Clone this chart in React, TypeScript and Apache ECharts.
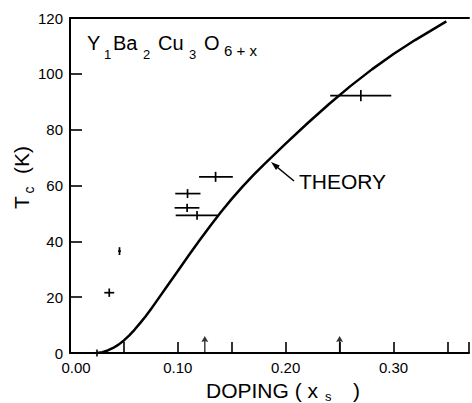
import React, { useEffect, useRef } from "react";
import * as echarts from "echarts";

// Theory curve (doping x_s vs Tc in K)
const theoryX = [0.025, 0.03, 0.035, 0.04, 0.045, 0.05, 0.055, 0.06, 0.065, 0.07, 0.075, 0.08, 0.09, 0.1, 0.11, 0.12, 0.13, 0.14, 0.15, 0.16, 0.17, 0.18, 0.2, 0.22, 0.24, 0.26, 0.28, 0.3, 0.32, 0.349];
const theoryY = [0, 0.3, 0.9, 1.8, 3.0, 4.5, 6.3, 8.4, 10.7, 13.1, 15.7, 18.4, 23.9, 29.4, 34.9, 40.3, 45.5, 50.5, 55.2, 59.6, 63.7, 67.6, 75.0, 82.2, 89.1, 95.6, 101.6, 107.1, 112.1, 118.8];

// Experimental points with error bars
const ptX = [0.0364, 0.0459, 0.1086, 0.1178, 0.109, 0.135, 0.2697];
const ptY = [21.6, 36.5, 52.0, 49.3, 57.1, 63.1, 92.2];
const ptXLo = [0.0318, 0.0446, 0.097, 0.098, 0.0976, 0.1197, 0.2413];
const ptXHi = [0.041, 0.0472, 0.12, 0.137, 0.121, 0.151, 0.2979];
const ptYErr = [1.5, 1.4, 1.5, 1.6, 1.6, 1.8, 2.0];

// Markers on the doping axis
const arrowX = [0.125, 0.25];
const startTickX = [0.025];

const FONT = '"Liberation Sans", Arial, Helvetica, sans-serif';

export default function App() {
  const ref = useRef<HTMLDivElement>(null);
  useEffect(() => {
    if (!ref.current) return;
    const chart = echarts.init(ref.current, null, { renderer: "svg" });
    const txt = (text: string, x: number, y: number, size: number, extra: any = {}) => ({
      type: "text",
      x,
      y,
      ...extra,
      style: { text, fontSize: size, fontFamily: FONT, fill: "#000", align: "left", verticalAlign: "middle", ...(extra.style || {}) },
    });
    chart.setOption({
      animation: false,
      backgroundColor: "#fff",
      grid: { left: 70, right: -2, top: 18, bottom: 50 },
      xAxis: [
        {
          type: "value",
          min: 0,
          max: 0.37,
          interval: 0.05,
          axisLine: { show: true, lineStyle: { color: "#000", width: 2 } },
          axisTick: { show: true, inside: true, length: 11, lineStyle: { color: "#000", width: 1.6 } },
          splitLine: { show: false },
          axisLabel: {
            color: "#000",
            fontSize: 15,
            fontFamily: FONT,
            margin: 7,
            formatter: (v: number) => {
              const r = Math.round(v * 100);
              if (r % 10 !== 0) return "";
              if (r === 0) return "{first|0.00}";
              return (r / 100).toFixed(2);
            },
            rich: { first: { fontSize: 15, fontFamily: FONT, color: "#000", padding: [0, 0, 0, 12] } },
          },
        },
        {
          type: "value",
          position: "top",
          min: 0,
          max: 0.37,
          axisLine: { show: true, onZero: false, lineStyle: { color: "#000", width: 2 } },
          axisTick: { show: false },
          axisLabel: { show: false },
          splitLine: { show: false },
        },
      ],
      yAxis: {
        type: "value",
        min: 0,
        max: 120,
        interval: 20,
        axisLine: { show: true, lineStyle: { color: "#000", width: 2 } },
        axisTick: { show: true, inside: true, length: 12, lineStyle: { color: "#000", width: 1.6 } },
        splitLine: { show: false },
        axisLabel: { color: "#000", fontSize: 15, fontFamily: FONT, margin: 7 },
      },
      series: [
        {
          type: "line",
          data: theoryX.map((x, i) => [x, theoryY[i]]),
          smooth: false,
          showSymbol: false,
          symbol: "none",
          lineStyle: { color: "#000", width: 2.5, join: "round" },
          z: 3,
        },
        {
          type: "custom",
          data: ptX.map((x, i) => [x, ptY[i], ptXLo[i], ptXHi[i], ptYErr[i]]),
          renderItem: (params: any, api: any) => {
            const x = api.value(0);
            const y = api.value(1);
            const lo = api.coord([api.value(2), y]);
            const hi = api.coord([api.value(3), y]);
            const top = api.coord([x, y + api.value(4)]);
            const bot = api.coord([x, y - api.value(4)]);
            const st = { stroke: "#000", lineWidth: 1.7 };
            return {
              type: "group",
              children: [
                { type: "line", shape: { x1: lo[0], y1: lo[1], x2: hi[0], y2: hi[1] }, style: st },
                { type: "line", shape: { x1: top[0], y1: top[1], x2: bot[0], y2: bot[1] }, style: st },
              ],
            };
          },
          z: 4,
        },
        {
          type: "scatter",
          data: arrowX.map((x) => [x, 0]),
          symbol: "path://M5,0 L10,9 L6,8 L6,26 L4,26 L4,8 L0,9 Z",
          symbolSize: [7, 17],
          symbolOffset: [0, "-50%"],
          itemStyle: { color: "#000" },
          z: 5,
        },
        {
          type: "scatter",
          data: startTickX.map((x) => [x, 0]),
          symbol: "rect",
          symbolSize: [2, 7],
          itemStyle: { color: "#000" },
          z: 5,
        },
      ],
      graphic: [
        // formula Y1Ba2Cu3O6+x
        txt("Y", 87, 43, 20),
        txt("1", 104, 54, 13),
        txt("Ba", 113, 43, 20),
        txt("2", 143, 54, 13),
        txt("Cu", 158, 43, 20),
        txt("3", 189, 54, 13),
        txt("O", 204, 43, 20),
        txt("6 + x", 224, 50, 15),
        // THEORY annotation
        txt("THEORY", 299, 181, 21),
        { type: "line", shape: { x1: 294, y1: 181, x2: 277, y2: 167 }, style: { stroke: "#000", lineWidth: 1.6 } },
        { type: "polygon", shape: { points: [[271, 162], [279.8, 165.4], [276, 170]] }, style: { fill: "#000" } },
        // x-axis title
        txt("DOPING ( x", 206, 390, 21),
        txt("s", 325, 396, 13),
        txt(")", 353, 390, 21),
        // y-axis title
        txt("T", 21, 202.5, 21, { rotation: Math.PI / 2, style: { align: "center" } }),
        txt("c", 29, 190, 14, { rotation: Math.PI / 2, style: { align: "center" } }),
        txt("(K)", 21, 160, 21, { rotation: Math.PI / 2, style: { align: "center" } }),
      ],
    });
    return () => chart.dispose();
  }, []);
  return <div ref={ref} style={{ position: "fixed", left: 0, top: 0, width: 472, height: 403 }} />;
}
